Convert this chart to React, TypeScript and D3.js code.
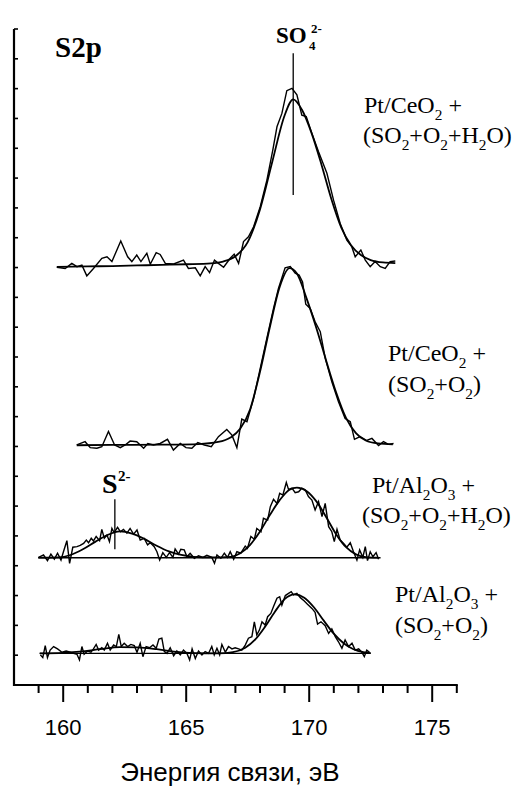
import React from 'react';
import * as d3 from 'd3';

const W = 521;
const H = 791;

// x axis: binding energy (eV)
const xDomain: [number, number] = [158, 176];
const xMajorTicks = [160, 165, 170, 175];
const xMinorTicks = [159, 161, 162, 163, 164, 166, 167, 168, 169, 171, 172, 173, 174, 176];
const yDomain: [number, number] = [0, 22];
const yTicks = [1, 2, 3, 4, 5, 6, 7, 8, 9, 10, 11, 12, 13, 14, 15, 16, 17, 18, 19, 20, 21, 22];
const xTitle = 'Энергия связи, эВ';

// Spectrum 1: Pt/CeO2 + (SO2+O2+H2O)
const spec1Raw: [number, number][] = [
  [159.74, 14.01], [160.08, 13.97], [160.35, 14.14], [160.56, 14.03], [160.76, 14.08], [160.96, 13.72],
  [161.23, 13.97], [161.57, 14.31], [161.78, 14.36], [161.98, 14.2], [162.34, 14.89], [162.62, 14.36],
  [162.79, 14.2], [162.99, 14.42], [163.16, 14.2], [163.4, 14.48], [163.54, 14.11], [163.78, 14.5],
  [163.94, 14.44], [164.15, 14.14], [164.49, 14.12], [164.89, 14.25], [165.09, 13.97], [165.37, 13.99],
  [165.57, 13.72], [165.77, 14.03], [165.95, 13.83], [166.15, 14.25], [166.31, 14.14], [166.52, 14.01],
  [166.79, 14.31], [166.95, 14.45], [167.13, 14.14], [167.33, 14.87], [167.53, 15.03], [167.74, 15.37],
  [168.01, 16.04], [168.28, 16.93], [168.52, 17.94], [168.69, 18.72], [168.89, 19.17], [169.09, 19.93],
  [169.3, 20.01], [169.5, 19.79], [169.7, 19.11], [169.88, 19.06], [170.11, 18.5], [170.38, 17.88],
  [170.72, 17.16], [170.99, 16.26], [171.26, 15.48], [171.53, 14.92], [171.73, 14.7], [171.87, 14.36],
  [172.1, 14.59], [172.28, 14.25], [172.48, 14.03], [172.68, 14.2], [172.89, 14.03], [173.09, 13.97],
  [173.29, 14.2], [173.5, 14.22],
];
const spec1Fit: [number, number][] = [
  [159.74, 14.02], [161, 14.04], [162, 14.05], [163, 14.07], [164, 14.09], [165, 14.11], [166, 14.14],
  [166.5, 14.2], [167, 14.38], [167.5, 14.85], [168, 15.95], [168.5, 17.55], [169, 19.1], [169.35, 19.64],
  [169.7, 19.3], [170.1, 18.5], [170.5, 17.45], [170.9, 16.3], [171.3, 15.35], [171.7, 14.75],
  [172.1, 14.42], [172.5, 14.25], [173, 14.17], [173.5, 14.15],
];

// Spectrum 2: Pt/CeO2 + (SO2+O2)
const spec2Raw: [number, number][] = [
  [160.55, 8.05], [160.89, 8.16], [161.1, 7.96], [161.37, 7.94], [161.57, 7.99], [161.84, 8.5],
  [162.09, 8.05], [162.32, 7.96], [162.52, 8.05], [162.72, 8.18], [162.99, 8.16], [163.27, 7.94],
  [163.44, 8.1], [163.67, 8.05], [163.94, 8.1], [164.24, 8.24], [164.48, 7.88], [164.76, 8.1],
  [164.99, 7.96], [165.23, 7.94], [165.47, 8.13], [165.74, 8.05], [166.02, 7.99], [166.31, 8.33],
  [166.65, 8.57], [166.86, 8.38], [167.06, 7.96], [167.26, 8.92], [167.47, 8.83], [167.74, 9.61],
  [168.01, 10.62], [168.28, 11.63], [168.55, 12.63], [168.75, 13.3], [169.02, 13.99], [169.23, 14.03],
  [169.43, 13.81], [169.59, 13.75], [169.73, 13.52], [169.86, 12.77], [170.04, 12.63], [170.24, 12.18],
  [170.45, 11.85], [170.65, 10.96], [170.92, 10.17], [171.19, 9.5], [171.46, 8.94], [171.67, 8.83],
  [171.84, 8.24], [172.07, 8.33], [172.34, 8.2], [172.55, 8.27], [172.82, 8.03], [173.02, 8.16],
  [173.22, 8.07], [173.43, 8.1],
];
const spec2Fit: [number, number][] = [
  [160.55, 8.04], [162, 8.05], [164, 8.06], [165.5, 8.08], [166.3, 8.15], [166.8, 8.3], [167.2, 8.6],
  [167.6, 9.25], [168, 10.5], [168.4, 12.0], [168.8, 13.35], [169.2, 13.98], [169.5, 13.8], [169.9, 12.95],
  [170.3, 11.95], [170.7, 10.85], [171.1, 9.8], [171.5, 8.95], [171.9, 8.45], [172.3, 8.2], [172.8, 8.1],
  [173.4, 8.07],
];

// Spectrum 3: Pt/Al2O3 + (SO2+O2+H2O)
const spec3Raw: [number, number][] = [
  [159.0, 4.28], [159.2, 4.36], [159.36, 4.17], [159.5, 4.39], [159.64, 4.22], [159.77, 4.42],
  [159.91, 4.19], [160.01, 4.47], [160.15, 4.84], [160.26, 4.08], [160.39, 4.62], [160.56, 4.64],
  [160.69, 4.68], [160.83, 4.75], [160.94, 4.86], [161.03, 4.77], [161.14, 4.92], [161.23, 4.83],
  [161.34, 4.98], [161.48, 4.84], [161.57, 5.22], [161.67, 4.92], [161.78, 5.03], [161.88, 4.81],
  [161.98, 5.25], [162.07, 5.11], [162.21, 5.29], [162.32, 5.14], [162.45, 5.22], [162.59, 5.09],
  [162.72, 5.25], [162.86, 5.06], [163.0, 5.2], [163.13, 4.86], [163.29, 4.92], [163.43, 4.7],
  [163.54, 4.77], [163.7, 4.64], [163.81, 4.47], [163.92, 4.19], [164.05, 4.44], [164.19, 4.28],
  [164.32, 4.44], [164.46, 4.28], [164.55, 4.56], [164.69, 4.39], [164.78, 4.55], [164.92, 4.53],
  [165.03, 4.3], [165.16, 4.42], [165.33, 4.25], [165.5, 4.33], [165.68, 4.28], [165.84, 4.35],
  [166.04, 4.28], [166.15, 4.08], [166.25, 4.36], [166.41, 4.25], [166.55, 4.42], [166.68, 4.28],
  [166.79, 4.47], [166.93, 4.22], [167.06, 4.47], [167.22, 4.42], [167.4, 4.66], [167.49, 4.58],
  [167.63, 4.98], [167.77, 4.89], [167.87, 5.25], [168.04, 5.14], [168.14, 5.59], [168.31, 5.53],
  [168.42, 5.98], [168.55, 6.23], [168.69, 6.09], [168.8, 6.43], [168.93, 6.37], [169.07, 6.79],
  [169.16, 6.56], [169.3, 6.6], [169.43, 6.45], [169.57, 6.48], [169.7, 6.6], [169.84, 6.54],
  [169.97, 6.32], [170.11, 6.2], [170.24, 5.87], [170.38, 6.15], [170.52, 5.65], [170.65, 6.09],
  [170.79, 5.31], [170.92, 5.14], [171.02, 4.81], [171.13, 5.22], [171.26, 4.86], [171.4, 4.75],
  [171.53, 4.62], [171.67, 4.77], [171.8, 4.47], [171.94, 4.19], [172.05, 4.53], [172.18, 4.28],
  [172.28, 4.64], [172.37, 4.17], [172.48, 4.47], [172.59, 4.3], [172.72, 4.44], [172.82, 4.22],
];
const spec3Fit: [number, number][] = [
  [159.0, 4.27], [159.8, 4.28], [160.3, 4.36], [160.8, 4.55], [161.3, 4.8], [161.8, 5.03], [162.3, 5.15],
  [162.8, 5.08], [163.3, 4.9], [163.8, 4.67], [164.3, 4.48], [164.8, 4.36], [165.3, 4.3], [166, 4.28],
  [166.8, 4.3], [167.2, 4.42], [167.6, 4.7], [168.0, 5.15], [168.4, 5.7], [168.8, 6.2], [169.2, 6.55],
  [169.5, 6.62], [169.9, 6.5], [170.3, 6.15], [170.7, 5.62], [171.1, 5.05], [171.5, 4.62], [171.9, 4.38],
  [172.3, 4.29], [172.8, 4.27],
];
const spec3Base: [number, number][] = [[158.98, 4.27], [172.9, 4.27]];

// Spectrum 4: Pt/Al2O3 + (SO2+O2)
const spec4Raw: [number, number][] = [
  [159.07, 1.01], [159.17, 0.92], [159.27, 1.32], [159.36, 0.92], [159.47, 1.17], [159.61, 1.29],
  [159.77, 1.21], [159.95, 1.1], [160.12, 1.14], [160.29, 1.1], [160.42, 1.06], [160.56, 1.03],
  [160.66, 0.84], [160.76, 1.29], [160.85, 1.03], [160.99, 1.14], [161.13, 1.1], [161.23, 1.21],
  [161.34, 1.36], [161.44, 1.17], [161.57, 1.25], [161.67, 1.17], [161.8, 1.4], [161.91, 1.17],
  [162.05, 1.34], [162.16, 1.29], [162.26, 1.7], [162.36, 1.29], [162.48, 1.4], [162.62, 1.29],
  [162.75, 1.36], [162.89, 1.32], [163.0, 1.1], [163.13, 1.4], [163.24, 0.95], [163.37, 1.29],
  [163.51, 1.25], [163.65, 1.34], [163.78, 1.23], [163.89, 1.54], [164.01, 1.57], [164.11, 1.12],
  [164.22, 1.06], [164.35, 1.25], [164.49, 0.98], [164.62, 1.14], [164.76, 1.01], [164.89, 1.17],
  [165.03, 1.06], [165.14, 0.84], [165.24, 1.21], [165.37, 0.89], [165.5, 1.14], [165.64, 1.01],
  [165.77, 1.12], [165.91, 1.06], [166.04, 1.29], [166.14, 1.01], [166.25, 1.23], [166.36, 1.01],
  [166.45, 1.36], [166.59, 1.1], [166.72, 1.29], [166.86, 1.21], [166.99, 1.25], [167.13, 1.21],
  [167.26, 1.17], [167.4, 1.34], [167.53, 1.57], [167.67, 1.62], [167.77, 2.12], [167.87, 1.68],
  [167.98, 1.85], [168.08, 2.12], [168.21, 2.01], [168.31, 2.29], [168.44, 2.4], [168.55, 2.63],
  [168.69, 2.91], [168.8, 2.96], [168.89, 2.68], [169.03, 3.0], [169.16, 3.07], [169.27, 3.13],
  [169.36, 3.02], [169.5, 3.07], [169.64, 2.93], [169.8, 2.82], [169.93, 2.71], [170.11, 2.57],
  [170.24, 2.44], [170.34, 2.04], [170.48, 2.12], [170.65, 1.99], [170.79, 1.73], [170.92, 1.88],
  [171.06, 1.62], [171.19, 1.45], [171.33, 1.23], [171.46, 1.51], [171.6, 1.29], [171.74, 1.4],
  [171.87, 1.17], [172.01, 1.21], [172.14, 1.1], [172.24, 0.95], [172.34, 1.17], [172.45, 1.1],
];
const spec4Fit: [number, number][] = [
  [159.05, 1.06], [160, 1.08], [160.8, 1.13], [161.5, 1.2], [162.3, 1.27], [163, 1.26], [163.8, 1.2],
  [164.5, 1.12], [165.3, 1.07], [166.3, 1.06], [166.9, 1.1], [167.4, 1.25], [167.8, 1.52], [168.2, 1.95],
  [168.6, 2.45], [169.0, 2.88], [169.4, 3.04], [169.8, 2.93], [170.2, 2.6], [170.6, 2.15], [171.0, 1.72],
  [171.4, 1.4], [171.8, 1.2], [172.2, 1.1], [172.5, 1.07],
];
const spec4Base: [number, number][] = [[159.04, 1.06], [172.5, 1.06]];

// Peak markers
const so4Marker: [number, number][] = [[169.35, 21.19], [169.35, 16.43]];
const s2Marker: [number, number][] = [[162.1, 6.23], [162.1, 4.55]];

type Seg = { t: string; sub?: boolean };
const label1a: Seg[] = [{ t: 'Pt/CeO' }, { t: '2', sub: true }, { t: ' +' }];
const label1b: Seg[] = [{ t: '(SO' }, { t: '2', sub: true }, { t: '+O' }, { t: '2', sub: true }, { t: '+H' }, { t: '2', sub: true }, { t: 'O)' }];
const label2a: Seg[] = [{ t: 'Pt/CeO' }, { t: '2', sub: true }, { t: ' +' }];
const label2b: Seg[] = [{ t: '(SO' }, { t: '2', sub: true }, { t: '+O' }, { t: '2', sub: true }, { t: ')' }];
const label3a: Seg[] = [{ t: 'Pt/Al' }, { t: '2', sub: true }, { t: 'O' }, { t: '3', sub: true }, { t: ' +' }];
const label3b: Seg[] = [{ t: '(SO' }, { t: '2', sub: true }, { t: '+O' }, { t: '2', sub: true }, { t: '+H' }, { t: '2', sub: true }, { t: 'O)' }];
const label4a: Seg[] = [{ t: 'Pt/Al' }, { t: '2', sub: true }, { t: 'O' }, { t: '3', sub: true }, { t: ' +' }];
const label4b: Seg[] = [{ t: '(SO' }, { t: '2', sub: true }, { t: '+O' }, { t: '2', sub: true }, { t: ')' }];

const SERIF = "'Liberation Serif', 'Times New Roman', serif";
const SANS = "'Liberation Sans', Arial, sans-serif";

function SubText({ x, y, segs, size = 24 }: { x: number; y: number; segs: Seg[]; size?: number }) {
  const shift = 7;
  let cur = 0;
  return (
    <text x={x} y={y} fontFamily={SERIF} fontSize={size} fill="#000">
      {segs.map((s, i) => {
        const target = s.sub ? shift : 0;
        const dy = target - cur;
        cur = target;
        return (
          <tspan key={i} dy={dy} fontSize={s.sub ? size * 0.64 : size}>
            {s.t}
          </tspan>
        );
      })}
    </text>
  );
}

export default function App() {
  const x = d3.scaleLinear().domain(xDomain).range([14, 456.8]);
  const y = d3.scaleLinear().domain(yDomain).range([685, 29]);
  const raw = d3.line<[number, number]>().x((d) => x(d[0])).y((d) => y(d[1]));
  const fit = d3
    .line<[number, number]>()
    .x((d) => x(d[0]))
    .y((d) => y(d[1]))
    .curve(d3.curveMonotoneX);

  const axisY = y(0);
  const raws = [spec1Raw, spec2Raw, spec3Raw, spec4Raw];
  const fits = [spec1Fit, spec2Fit, spec3Fit, spec4Fit];
  const bases = [spec3Base, spec4Base];

  return (
    <svg
      width={W}
      height={H}
      style={{ position: 'absolute', left: 0, top: 0, background: '#fff' }}
      xmlns="http://www.w3.org/2000/svg"
    >
      <rect x={0} y={0} width={W} height={H} fill="#fff" />
      {/* axes */}
      <line x1={x(xDomain[0])} x2={x(xDomain[0])} y1={y(yDomain[1])} y2={axisY + 1} stroke="#000" strokeWidth={2.2} />
      <line x1={x(xDomain[0]) - 1} x2={x(xDomain[1]) + 1} y1={axisY} y2={axisY} stroke="#000" strokeWidth={2.2} />
      {yTicks.map((t) => (
        <line key={'yt' + t} x1={x(xDomain[0])} x2={x(xDomain[0]) + 4} y1={y(t)} y2={y(t)} stroke="#000" strokeWidth={1.6} />
      ))}
      {xMinorTicks.map((t) => (
        <line key={'xm' + t} x1={x(t)} x2={x(t)} y1={axisY} y2={axisY + 8} stroke="#000" strokeWidth={2} />
      ))}
      {xMajorTicks.map((t) => (
        <line key={'xM' + t} x1={x(t)} x2={x(t)} y1={axisY} y2={axisY + 17} stroke="#000" strokeWidth={2} />
      ))}
      {xMajorTicks.map((t) => (
        <text key={'xl' + t} x={x(t)} y={735} textAnchor="middle" fontFamily={SANS} fontSize={22} fill="#000">
          {t}
        </text>
      ))}
      <text x={230} y={781} textAnchor="middle" fontFamily={SANS} fontSize={26} fill="#000">
        {xTitle}
      </text>

      {/* spectra */}
      {bases.map((b, i) => (
        <path key={'b' + i} d={raw(b) || ''} fill="none" stroke="#000" strokeWidth={1.4} />
      ))}
      {fits.map((f, i) => (
        <path key={'f' + i} d={fit(f) || ''} fill="none" stroke="#000" strokeWidth={1.8} />
      ))}
      {raws.map((r, i) => (
        <path key={'r' + i} d={raw(r) || ''} fill="none" stroke="#000" strokeWidth={1.4} strokeLinejoin="miter" />
      ))}

      {/* markers */}
      <path d={raw(so4Marker) || ''} stroke="#000" strokeWidth={1.3} />
      <path d={raw(s2Marker) || ''} stroke="#000" strokeWidth={1.3} />

      {/* labels */}
      <text x={55} y={57} fontFamily={SERIF} fontWeight="bold" fontSize={29} fill="#000">S2p</text>
      <text x={276} y={43} fontFamily={SERIF} fontWeight="bold" fontSize={23} fill="#000">SO</text>
      <text x={309} y={50} fontFamily={SERIF} fontWeight="bold" fontSize={13} fill="#000">4</text>
      <text x={311} y={33} fontFamily={SERIF} fontWeight="bold" fontSize={13} fill="#000">2-</text>
      <text x={102} y={493} fontFamily={SERIF} fontWeight="bold" fontSize={28} fill="#000">S</text>
      <text x={118} y={481} fontFamily={SERIF} fontWeight="bold" fontSize={15} fill="#000">2-</text>

      <SubText x={364} y={113} segs={label1a} />
      <SubText x={363} y={143} segs={label1b} />
      <SubText x={388} y={361} segs={label2a} />
      <SubText x={388} y={392} segs={label2b} />
      <SubText x={372} y={493} segs={label3a} />
      <SubText x={362} y={523} segs={label3b} />
      <SubText x={395} y={602} segs={label4a} />
      <SubText x={395} y={633} segs={label4b} />
    </svg>
  );
}
